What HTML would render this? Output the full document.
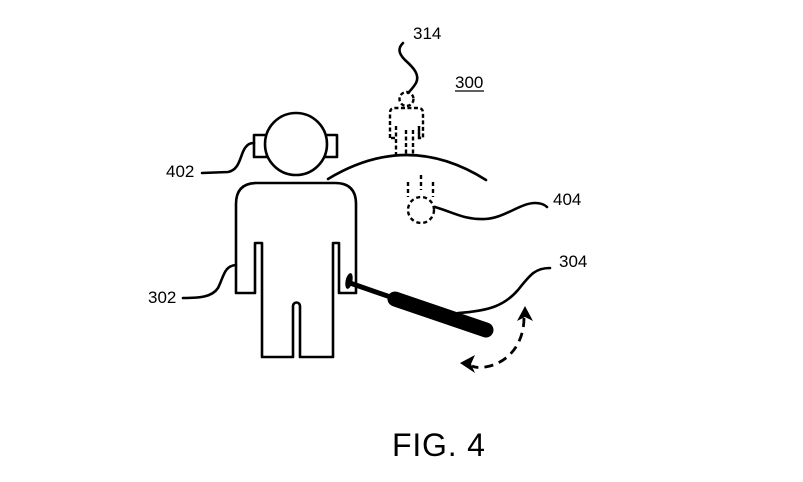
<!DOCTYPE html>
<html>
<head>
<meta charset="utf-8">
<style>
  html, body { margin: 0; padding: 0; background: #fff; }
  svg { display: block; }
  text { font-family: "Liberation Sans", Arial, sans-serif; fill: #000; }
</style>
</head>
<body>
<svg width="803" height="482" viewBox="0 0 803 482" xmlns="http://www.w3.org/2000/svg">
  <g fill="none" stroke="#000" stroke-width="2.6" stroke-linejoin="round" stroke-linecap="round">
    <!-- big person body -->
    <path d="M236 293 L236 204 Q236 183 257 183 L335 183 Q356 183 356 204 L356 293 L339 293 L339 243 L333 243 L333 357 L300 357 L300 306 A3.5 3.5 0 0 0 293 306 L293 357 L262 357 L262 243 L255 243 L255 293 Z"/>
    <!-- ears -->
    <rect x="254" y="135" width="13" height="22"/>
    <rect x="325" y="135" width="12" height="22"/>
    <!-- head -->
    <circle cx="296" cy="144" r="31" fill="#fff"/>
    <!-- arc -->
    <path d="M328 179 Q408 130.5 486 180"/>

    <!-- leaders -->
    <path d="M202 173 L228 172 C240 170 240 155 245 148 C248 144 250 143 254 143"/>
    <path d="M183 298 C200 298 212 297 218 288 C224 276 224 266 236 265"/>
    <path d="M458 313 C490 311 505 305 518 290 C530 275 535 268 550 268"/>
    <path d="M435 207 C455 213 465 220 485 219 C505 218 520 203 535 203 C541 203 545 205 547 207"/>
    <path d="M403 43 C398 48 398 53 405 60 C414 68 420 75 416 83 C413 88 410 91 408 93"/>
  </g>

  <!-- small dashed person -->
  <g fill="none" stroke="#000" stroke-width="2.4" stroke-dasharray="4 2.5">
    <circle cx="406.5" cy="99" r="7"/>
    <path d="M390 138 L390 113 Q390 108 395 108 L418 108 Q423 108 423 113 L423 138 L419 138 L419 126"/>
    <path d="M395 138 L390 138"/>
    <path d="M396 126 L396 155"/>
    <path d="M406 130 L406 155"/>
    <path d="M413 130 L413 155"/>
    <path d="M419 126 L419 138"/>
  </g>

  <!-- dashed falling object 404 -->
  <g fill="none" stroke="#000" stroke-width="2.4" stroke-dasharray="4 3">
    <circle cx="421" cy="210" r="13"/>
    <line x1="408" y1="182" x2="408" y2="197"/>
    <line x1="421" y1="175" x2="421" y2="190"/>
    <line x1="433" y1="182" x2="433" y2="197"/>
  </g>

  <!-- stick -->
  <ellipse cx="349" cy="281" rx="3.4" ry="8" transform="rotate(12 349 281)" fill="#000"/>
  <line x1="350" y1="283" x2="396" y2="299" stroke="#000" stroke-width="5"/>
  <line x1="395" y1="299" x2="486" y2="330" stroke="#000" stroke-width="15" stroke-linecap="round"/>

  <!-- dashed motion arrow -->
  <path d="M524 318 C524 340 512 360 490 366 C482 368 476 368 472 366" fill="none" stroke="#000" stroke-width="2.8" stroke-dasharray="9 6"/>
  <polygon points="525,306 517,321 525,317 533,321" fill="#000"/>
  <polygon points="460,363 475,355 471,364 475,373" fill="#000"/>

  <!-- labels -->
  <text x="413" y="39" font-size="17">314</text>
  <text x="455" y="88" font-size="17">300</text>
  <line x1="455" y1="91" x2="484" y2="91" stroke="#000" stroke-width="1.3"/>
  <text x="166" y="177" font-size="17">402</text>
  <text x="148" y="303" font-size="17">302</text>
  <text x="553" y="205" font-size="17">404</text>
  <text x="559" y="267" font-size="17">304</text>
  <text x="392" y="456" font-size="32" letter-spacing="0.8">FIG. 4</text>
</svg>
</body>
</html>
